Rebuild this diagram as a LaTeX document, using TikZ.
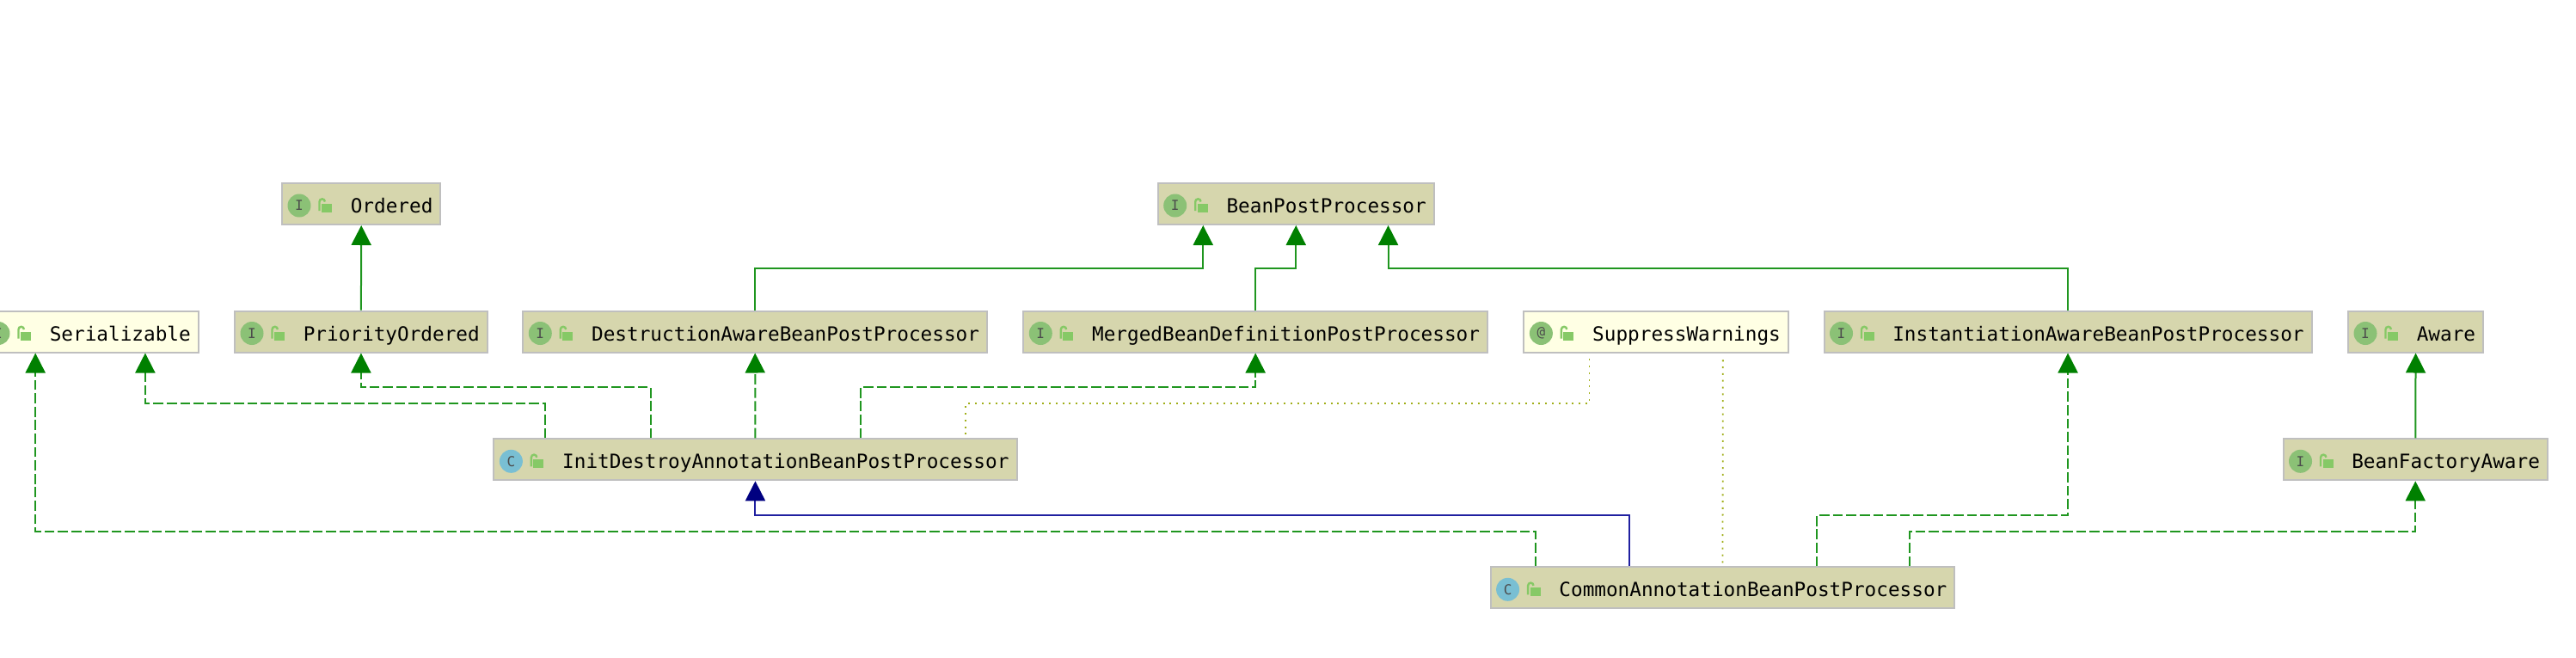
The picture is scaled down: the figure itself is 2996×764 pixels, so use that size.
\documentclass[tikz,border=0pt]{standalone}
\usepackage{fontspec}
\setmonofont{DejaVu Sans Mono}
\usetikzlibrary{arrows.meta,calc}
\definecolor{ifacefill}{HTML}{D6D6AD}
\definecolor{notefill}{HTML}{FFFFE4}
\definecolor{boxedge}{HTML}{BFBFBF}
\definecolor{badgegreen}{HTML}{8BC176}
\definecolor{badgeblue}{HTML}{79BFD3}
\definecolor{lockgreen}{HTML}{86C966}
\definecolor{tipgreen}{HTML}{008000}
\definecolor{linegreen}{HTML}{1F961F}
\definecolor{tipblue}{HTML}{000080}
\definecolor{lineblue}{HTML}{2020A0}
\definecolor{dotolive}{HTML}{A0AE18}
\tikzset{>={Triangle[length=23pt,width=23pt]}}
\tikzset{
  beanbox/.style={draw=boxedge,line width=2pt,anchor=west,minimum height=48pt,
    inner xsep=9pt,inner ysep=0pt,text height=24pt,text depth=3pt,
    font=\ttfamily\fontsize{22.7}{27}\selectfont,
    execute at begin node={\hspace*{70.8pt}}},
  ifacebox/.style={beanbox,fill=ifacefill},
  notebox/.style={beanbox,fill=notefill},
  badge/.style={circle,minimum size=27pt,inner sep=0pt,text=black!70,
    font=\ttfamily\fontsize{16}{16}\selectfont},
  extendline/.style={->,line width=2pt,color=linegreen,{-{Triangle[length=23pt,width=23pt,color=tipgreen]}}},
  implline/.style={extendline,dash pattern=on 11.7pt off 3.9pt},
  classline/.style={->,line width=2pt,color=lineblue,{-{Triangle[length=23pt,width=23pt,color=tipblue]}}},
  useline/.style={line width=1.8pt,color=dotolive,dash pattern=on 2pt off 5.8pt}
}

\begin{document}
\begin{tikzpicture}[x=1pt,y=1pt]
  \useasboundingbox (0,0) rectangle (2996,-764);
  % Boxes
  \node[ifacebox] (ordered) at (327,-237) {Ordered};
  \node[ifacebox] (beanpost) at (1345.7,-237) {BeanPostProcessor};
  \node[notebox] (serial) at (-23,-385.5) {Serializable};
  \node[ifacebox] (priority) at (272,-385.5) {PriorityOrdered};
  \node[ifacebox] (destruct) at (607.3,-385.5) {DestructionAwareBeanPostProcessor};
  \node[ifacebox] (merged) at (1189.3,-385.5) {MergedBeanDefinitionPostProcessor};
  \node[notebox] (suppress) at (1771.4,-385.5) {SuppressWarnings};
  \node[ifacebox] (instant) at (2120.5,-385.5) {InstantiationAwareBeanPostProcessor};
  \node[ifacebox] (aware) at (2730,-385.5) {Aware};
  \node[ifacebox] (initdestroy) at (573.4,-534.3) {InitDestroyAnnotationBeanPostProcessor};
  \node[ifacebox] (factory) at (2654.5,-534.3) {BeanFactoryAware};
  \node[ifacebox] (common) at (1732.6,-683.3) {CommonAnnotationBeanPostProcessor};
  % Badges and locks
  \foreach \nm/\col/\ltr in {ordered/badgegreen/I,beanpost/badgegreen/I,serial/badgegreen/I,
    priority/badgegreen/I,destruct/badgegreen/I,merged/badgegreen/I,suppress/badgegreen/@,
    instant/badgegreen/I,aware/badgegreen/I,initdestroy/badgeblue/C,factory/badgegreen/I,
    common/badgeblue/C} {
    \node[badge,fill=\col] (\nm icon) at ($(\nm.west)+(21,-2)$) {\ltr};
    \fill[lockgreen] ($(\nm.west)+(47,0)$) rectangle ++(12,-10);
    \draw[lockgreen,line width=2.4pt] ($(\nm.west)+(44.5,-8)$) -- ++(0,10.5) arc (180:0:3.2);
  }
  % Lines
  \draw[extendline] (priority.north) -- (ordered.south);
  \draw[extendline] (factory.north) -- (aware.south);
  \draw[extendline] (destruct.north) -- ++(0,49) -| ([xshift=-108]beanpost.south);
  \draw[extendline] (merged.north) -- ++(0,49) -| (beanpost.south);
  \draw[extendline] (instant.north) -- ++(0,49) -| ([xshift=107.3]beanpost.south);
  \draw[implline] (initdestroy.north) -- (destruct.south);
  \draw[implline] ([xshift=-121.6]initdestroy.north) -- ++(0,59) -| (priority.south);
  \draw[implline] ([xshift=-244.8]initdestroy.north) -- ++(0,40) -| ([xshift=64.5]serial.south);
  \draw[implline] ([xshift=122.1]initdestroy.north) -- ++(0,59) -| (merged.south);
  \draw[implline] ([xshift=-217.3]common.north) -- ++(0,40) -| ([xshift=-63.2]serial.south);
  \draw[implline] ([xshift=109.2]common.north) -- ++(0,59) -| (instant.south);
  \draw[implline] ([xshift=217.2]common.north) -- ++(0,40) -| (factory.south);
  \draw[classline] ([xshift=-108.7]common.north) -- ++(0,59) -| (initdestroy.south);
  \draw[useline] ([shift={(244.9,4)}]initdestroy.north) -- ++(0,36) -| ([shift={(-77.7,-3)}]suppress.south);
  \draw[useline] ([yshift=4]common.north) -- ([shift={(77.7,-7)}]suppress.south);
\end{tikzpicture}
\end{document}
